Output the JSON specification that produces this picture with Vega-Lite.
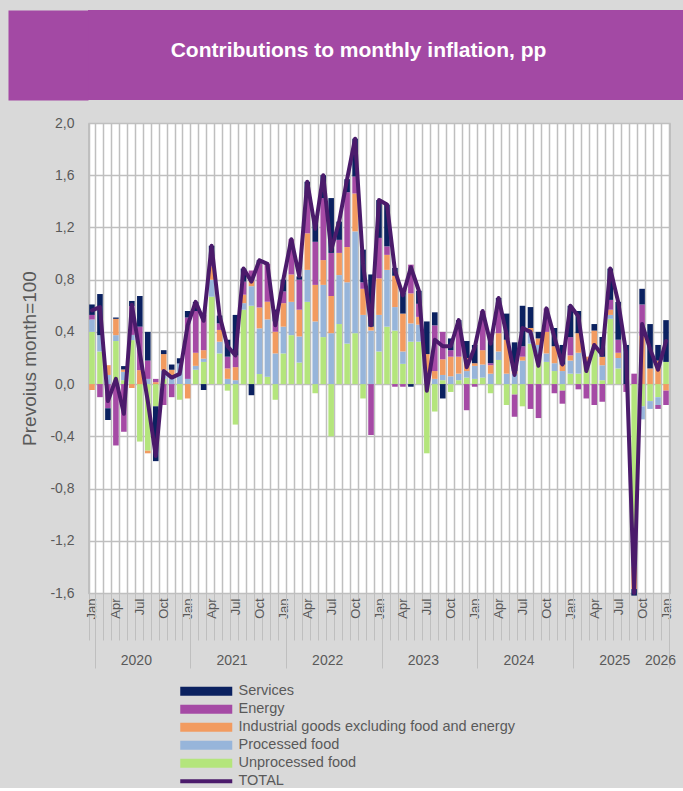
{
 "$schema": "https://vega.github.io/schema/vega-lite/v6.json",
 "background": "#d9d9d9",
 "padding": {"left": 8, "top": 10, "right": 0, "bottom": 0},
 "config": {"font": "Liberation Sans"},
 "spacing": 15,
 "datasets": {"d": [
  {"m":"2020-01","U":0.40,"P":0.095,"I":-0.045,"E":0.035,"C":0.08,"T":0.565},
  {"m":"2020-02","U":0.25,"P":0.125,"I":0,"E":-0.10,"C":0.315,"T":0.59},
  {"m":"2020-03","U":0,"P":0.07,"I":0.075,"E":-0.185,"C":-0.09,"T":-0.13},
  {"m":"2020-04","U":0.33,"P":0.045,"I":0.125,"E":-0.47,"C":0.01,"T":0.04},
  {"m":"2020-05","U":0.03,"P":0.064,"I":0.018,"E":-0.365,"C":0.026,"T":-0.227},
  {"m":"2020-06","U":0.337,"P":0.04,"I":-0.03,"E":0.22,"C":0.04,"T":0.607},
  {"m":"2020-07","U":-0.44,"P":0,"I":0.107,"E":0.333,"C":0.235,"T":0.235},
  {"m":"2020-08","U":-0.51,"P":0.04,"I":-0.02,"E":0.14,"C":0.22,"T":-0.13},
  {"m":"2020-09","U":-0.17,"P":0,"I":0.015,"E":0.025,"C":-0.42,"T":-0.55},
  {"m":"2020-10","U":0.04,"P":0.065,"I":0.125,"E":-0.16,"C":0.03,"T":0.10},
  {"m":"2020-11","U":0,"P":0.07,"I":0.04,"E":-0.10,"C":0.04,"T":0.05},
  {"m":"2020-12","U":-0.12,"P":0.158,"I":0,"E":0,"C":0.04,"T":0.078},
  {"m":"2021-01","U":0,"P":0.04,"I":-0.11,"E":0.47,"C":0.05,"T":0.45},
  {"m":"2021-02","U":0.11,"P":0.03,"I":0.10,"E":0.32,"C":0.07,"T":0.63},
  {"m":"2021-03","U":0.17,"P":0.025,"I":0.065,"E":0.27,"C":-0.045,"T":0.485},
  {"m":"2021-04","U":0.67,"P":0.13,"I":0.10,"E":0.08,"C":0.08,"T":1.06},
  {"m":"2021-05","U":0.235,"P":0.09,"I":0.09,"E":0.05,"C":0.06,"T":0.525},
  {"m":"2021-06","U":-0.05,"P":0.04,"I":0.08,"E":0.09,"C":0.13,"T":0.29},
  {"m":"2021-07","U":-0.31,"P":0.03,"I":0.10,"E":0.09,"C":0.31,"T":0.22},
  {"m":"2021-08","U":0.57,"P":0.05,"I":0.065,"E":0.10,"C":0.10,"T":0.885},
  {"m":"2021-09","U":0.60,"P":0.15,"I":0.04,"E":0.08,"C":-0.085,"T":0.785},
  {"m":"2021-10","U":0.077,"P":0.35,"I":0.16,"E":0.337,"C":0.025,"T":0.949},
  {"m":"2021-11","U":0.056,"P":0.44,"I":0.135,"E":0.29,"C":0,"T":0.921},
  {"m":"2021-12","U":-0.12,"P":0.235,"I":0.166,"E":0.08,"C":0.09,"T":0.451},
  {"m":"2022-01","U":0.235,"P":0.205,"I":0.18,"E":0.09,"C":0.09,"T":0.80},
  {"m":"2022-02","U":0.375,"P":0.255,"I":0.21,"E":0.27,"C":0,"T":1.11},
  {"m":"2022-03","U":0.165,"P":0.20,"I":0.205,"E":0.23,"C":0.025,"T":0.825},
  {"m":"2022-04","U":0.63,"P":0.245,"I":0.28,"E":0.30,"C":0.095,"T":1.55},
  {"m":"2022-05","U":-0.07,"P":0.48,"I":0.28,"E":0.33,"C":0.17,"T":1.19},
  {"m":"2022-06","U":0.36,"P":0.40,"I":0.19,"E":0.475,"C":0.175,"T":1.60},
  {"m":"2022-07","U":-0.40,"P":0.39,"I":0.285,"E":0.33,"C":0.42,"T":1.025},
  {"m":"2022-08","U":0.46,"P":0.375,"I":0.17,"E":0.10,"C":0.14,"T":1.245},
  {"m":"2022-09","U":0.31,"P":0.47,"I":0.27,"E":0.42,"C":0.10,"T":1.57},
  {"m":"2022-10","U":0.39,"P":0.78,"I":0.29,"E":0.13,"C":0.29,"T":1.88},
  {"m":"2022-11","U":-0.11,"P":0.53,"I":0.20,"E":0.05,"C":0.25,"T":0.92},
  {"m":"2022-12","U":0,"P":0.41,"I":0.03,"E":-0.39,"C":0.40,"T":0.45},
  {"m":"2023-01","U":0.25,"P":0.28,"I":0.28,"E":0.31,"C":0.29,"T":1.41},
  {"m":"2023-02","U":0.44,"P":0.435,"I":0.115,"E":0.065,"C":0.32,"T":1.375},
  {"m":"2023-03","U":0.41,"P":0.18,"I":0.24,"E":-0.02,"C":0.06,"T":0.87},
  {"m":"2023-04","U":0.155,"P":0.095,"I":0.29,"E":-0.02,"C":0.16,"T":0.68},
  {"m":"2023-05","U":0.325,"P":0.14,"I":0.23,"E":0.22,"C":-0.02,"T":0.895},
  {"m":"2023-06","U":0.325,"P":0.13,"I":0.06,"E":0.10,"C":0.10,"T":0.715},
  {"m":"2023-07","U":-0.53,"P":0.01,"I":0.22,"E":0,"C":0.25,"T":-0.05},
  {"m":"2023-08","U":-0.21,"P":0.04,"I":0.06,"E":0.35,"C":0.10,"T":0.34},
  {"m":"2023-09","U":0.03,"P":0.04,"I":0.12,"E":0.21,"C":-0.11,"T":0.29},
  {"m":"2023-10","U":-0.06,"P":0.06,"I":0.15,"E":0.05,"C":0.09,"T":0.29},
  {"m":"2023-11","U":0.03,"P":0.05,"I":0.13,"E":0.23,"C":0.05,"T":0.49},
  {"m":"2023-12","U":0.05,"P":0.05,"I":0.10,"E":-0.20,"C":0.13,"T":0.13},
  {"m":"2024-01","U":0.04,"P":0.10,"I":0.02,"E":-0.02,"C":0.14,"T":0.28},
  {"m":"2024-02","U":0.05,"P":0.10,"I":0.11,"E":0.30,"C":0,"T":0.56},
  {"m":"2024-03","U":-0.07,"P":0.08,"I":0.065,"E":0.015,"C":0.22,"T":0.31},
  {"m":"2024-04","U":0.185,"P":0.065,"I":0.14,"E":0.22,"C":0.05,"T":0.66},
  {"m":"2024-05","U":-0.16,"P":0.08,"I":0.26,"E":0,"C":0.20,"T":0.38},
  {"m":"2024-06","U":-0.08,"P":0.08,"I":0.02,"E":-0.17,"C":0.22,"T":0.07},
  {"m":"2024-07","U":-0.17,"P":0.18,"I":0.03,"E":0.08,"C":0.31,"T":0.43},
  {"m":"2024-08","U":0.31,"P":0.09,"I":0.03,"E":-0.19,"C":0.16,"T":0.40},
  {"m":"2024-09","U":0.22,"P":0.08,"I":0.05,"E":-0.26,"C":0.05,"T":0.14},
  {"m":"2024-10","U":0.17,"P":0.065,"I":0.165,"E":0.18,"C":0,"T":0.58},
  {"m":"2024-11","U":0.10,"P":0.06,"I":0.13,"E":-0.07,"C":0.14,"T":0.36},
  {"m":"2024-12","U":-0.05,"P":0.10,"I":0.05,"E":-0.10,"C":0.15,"T":0.15},
  {"m":"2025-01","U":0.08,"P":0.10,"I":0.04,"E":0.14,"C":0.24,"T":0.60},
  {"m":"2025-02","U":0.08,"P":0.16,"I":0.15,"E":-0.04,"C":0.17,"T":0.52},
  {"m":"2025-03","U":0.15,"P":0,"I":0.06,"E":-0.11,"C":0,"T":0.10},
  {"m":"2025-04","U":0.30,"P":0,"I":0.11,"E":-0.16,"C":0.05,"T":0.30},
  {"m":"2025-05","U":0.03,"P":0.115,"I":0.065,"E":-0.135,"C":0.15,"T":0.225},
  {"m":"2025-06","U":0.50,"P":0.03,"I":0.04,"E":0.075,"C":0.24,"T":0.885},
  {"m":"2025-07","U":0.12,"P":0.08,"I":0.04,"E":0.10,"C":0.29,"T":0.63},
  {"m":"2025-08","U":0,"P":0,"I":0,"E":-0.06,"C":0.30,"T":0.24},
  {"m":"2025-09","U":-1.25,"P":-0.15,"I":-0.17,"E":0.08,"C":-0.05,"T":-1.60},
  {"m":"2025-10","U":-0.17,"P":-0.10,"I":0.37,"E":0.24,"C":0.12,"T":0.46},
  {"m":"2025-11","U":-0.13,"P":-0.06,"I":0.12,"E":0,"C":0.34,"T":0.27},
  {"m":"2025-12","U":-0.10,"P":-0.06,"I":0.18,"E":-0.03,"C":0.12,"T":0.11},
  {"m":"2026-01","U":0.17,"P":0,"I":-0.05,"E":-0.11,"C":0.32,"T":0.33}
 ]},
 "vconcat": [
  {
   "width": 595,
   "height": 90,
   "view": {"fill": "#a349a4", "stroke": null},
   "data": {"values": [{"t": "Contributions to monthly inflation, pp"}]},
   "mark": {"type": "text", "font": "Liberation Sans", "fontSize": 21, "fontWeight": "bold", "color": "#ffffff", "align": "center", "baseline": "middle", "dx": -27},
   "encoding": {
    "text": {"field": "t", "type": "nominal"},
    "y": {"datum": 0.55, "type": "quantitative", "scale": {"domain": [0, 1]},
          "axis": {"orient": "left", "title": null, "labels": false, "ticks": false, "grid": false,
                   "domain": true, "domainColor": "#a349a4", "domainWidth": 80, "domainCap": "butt", "offset": 40}}
   }
  },
  {
   "width": 582,
   "height": 470,
   "view": {"fill": "#ffffff", "stroke": "#bfbfbf"},
   "data": {"name": "d"},
   "layer": [
    {
     "transform": [{"fold": ["U", "P", "I", "E", "C"], "as": ["k", "v"]}],
     "mark": {"type": "bar"},
     "encoding": {
      "x": {"field": "m", "type": "ordinal", "sort": null,
            "scale": {"paddingInner": 0.3, "paddingOuter": 0.15},
            "axis": {"orient": "bottom", "title": null, "grid": true, "gridColor": "#bfbfbf", "gridWidth": 1.5,
                     "tickBand": "extent", "ticks": true, "tickSize": 47, "tickColor": "#bfbfbf",
                     "domain": true, "domainColor": "#bfbfbf",
                     "labelAngle": -90, "labelAlign": "right", "labelBaseline": "middle",
                     "labelPadding": -42, "labelFontSize": 13, "labelColor": "#595959",
                     "labelOverlap": false, "labelBound": false,
                     "labelExpr": "substring(datum.value,5,7)=='01' ? 'Jan' : substring(datum.value,5,7)=='04' ? 'Apr' : substring(datum.value,5,7)=='07' ? 'Jul' : substring(datum.value,5,7)=='10' ? 'Oct' : ''"}},
      "y": {"field": "v", "type": "quantitative", "stack": "zero",
            "scale": {"domain": [-1.6, 2.0], "nice": false, "zero": false},
            "axis": {"title": ["", "Prevoius month=100"], "titleLineHeight": 12, "values": [-1.6, -1.2, -0.8, -0.4, 0, 0.4, 0.8, 1.2, 1.6, 2.0],
                     "labelExpr": "(datum.value < 0 ? '-' : '') + replace(format(abs(datum.value), '.1f'), '.', ',')",
                     "grid": true, "gridColor": "#bfbfbf", "gridWidth": 1.5, "ticks": false, "domain": false,
                     "labelPadding": 14, "labelFontSize": 14, "labelColor": "#595959",
                     "titleFontSize": 19, "titleFontWeight": "normal", "titleColor": "#595959", "titlePadding": 10}},
      "order": {"field": "k", "sort": "descending"},
      "color": {"field": "k", "type": "nominal",
                "scale": {"domain": ["C", "E", "I", "P", "U", "T"],
                          "range": ["#0b2160", "#a54aa5", "#f29b60", "#97b5da", "#b4e57c", "#4b1b6b"]},
                "legend": {"title": null, "orient": "none", "legendX": 111, "legendY": 674, "direction": "vertical",
                           "labelExpr": "datum.label=='C' ? 'Services' : datum.label=='E' ? 'Energy' : datum.label=='I' ? 'Industrial goods excluding food and energy' : datum.label=='P' ? 'Processed food' : datum.label=='U' ? 'Unprocessed food' : 'TOTAL'",
                           "labelFontSize": 14.5, "labelColor": "#595959", "labelLimit": 500, "symbolSize": 100, "labelOffset": 25,
                           "rowPadding": 3, "padding": 0, "symbolType": "M-5.2,-0.9H5.2V0.9H-5.2Z",
                           "symbolOpacity": 1, "symbolStrokeWidth": 0,
                           "encode": {"symbols": {"update": {"shape": {"signal": "datum.value === 'T' ? 'M-5.2,-0.4H5.2V0.4H-5.2Z' : 'M-5.2,-0.9H5.2V0.9H-5.2Z'"}}}}}}
     }
    },
    {
     "transform": [{"fold": ["T"], "as": ["k", "v"]}],
     "mark": {"type": "line", "strokeWidth": 4, "strokeJoin": "round", "strokeCap": "round"},
     "encoding": {
      "x": {"field": "m", "type": "ordinal", "sort": null,
            "axis": {"orient": "bottom", "title": null, "grid": false, "domain": false, "tickBand": "extent", "ticks": true,
                     "tickSize": 75, "tickColor": "#bfbfbf",
                     "tickOpacity": {"condition": {"test": "substring(datum.value,5,7)=='01'", "value": 1}, "value": 0},
                     "labelAngle": 0, "labelAlign": "center", "labelBaseline": "top", "labelPadding": -15,
                     "labelFontSize": 14, "labelColor": "#595959", "labelOverlap": false, "labelBound": false,
                     "labelOffset": {"condition": {"test": "datum.value=='2026-01'", "value": -6}, "value": 4},
                     "labelExpr": "substring(datum.value,5,7)=='06' ? substring(datum.value,0,4) : datum.value=='2026-01' ? '2026' : ''"}},
      "y": {"field": "v", "type": "quantitative"},
      "color": {"field": "k", "type": "nominal"}
     }
    }
   ],
   "resolve": {"axis": {"x": "independent"}}
  }
 ]
}
